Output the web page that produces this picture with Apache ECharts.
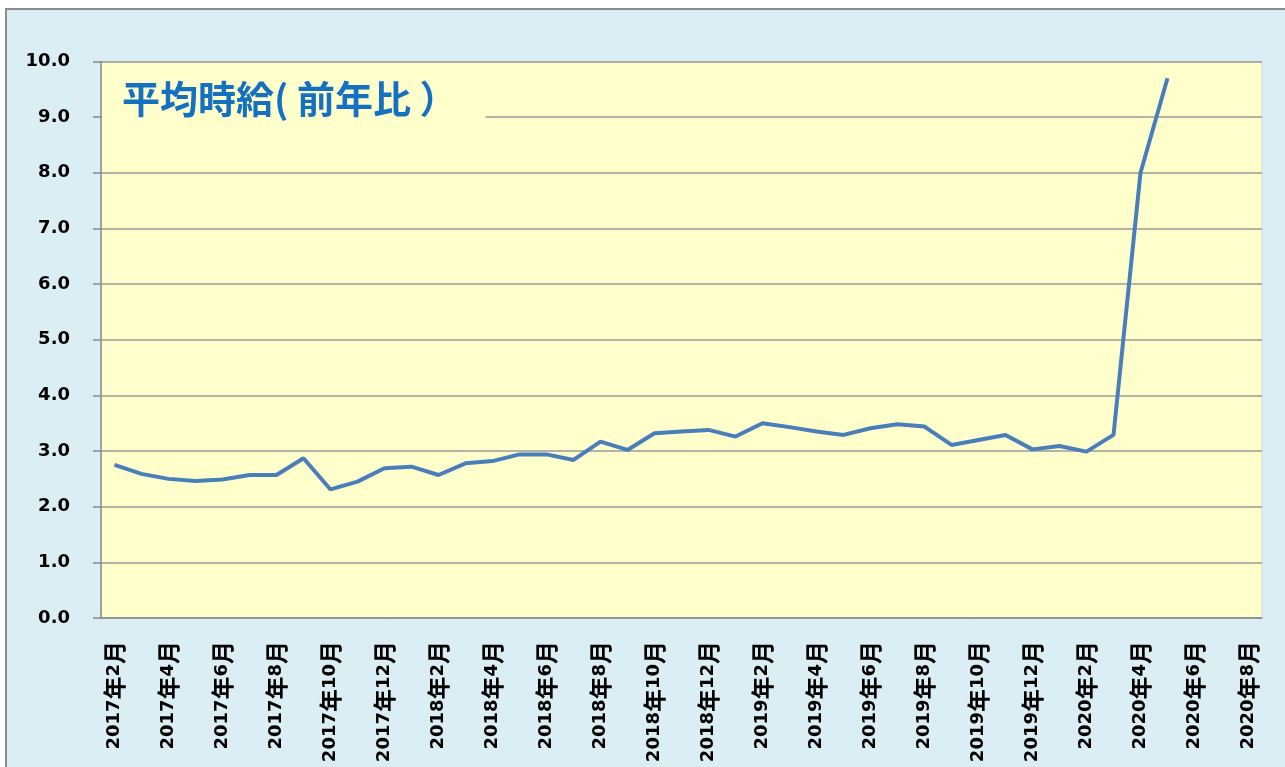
<!DOCTYPE html>
<html lang="ja">
<head>
    <meta charset="UTF-8">
    <title>平均時給(前年比）</title>
    <script src="https://cdn.jsdelivr.net/npm/echarts@6/dist/echarts.min.js"></script>
    <style>
        html, body { margin: 0; padding: 0; background: #fff; }
        #frame {
            position: absolute; left: 5px; top: 8px; width: 1285px; height: 767px;
            background: #DAEEF3;
            border-top: 2px solid #8c8c8c;
            border-left: 2px solid #8c8c8c;
        }
        #chart1 { position: absolute; left: 0; top: 0; width: 1285px; height: 767px; }
    </style>
</head>
<body>
<div id="frame"></div>
<div id="chart1"></div>
<script>
    // 月 (2017年2月 ～ 2020年8月)
    var months = [
        '2017年2月','2017年3月','2017年4月','2017年5月','2017年6月','2017年7月','2017年8月','2017年9月','2017年10月','2017年11月','2017年12月',
        '2018年1月','2018年2月','2018年3月','2018年4月','2018年5月','2018年6月','2018年7月','2018年8月','2018年9月','2018年10月','2018年11月','2018年12月',
        '2019年1月','2019年2月','2019年3月','2019年4月','2019年5月','2019年6月','2019年7月','2019年8月','2019年9月','2019年10月','2019年11月','2019年12月',
        '2020年1月','2020年2月','2020年3月','2020年4月','2020年5月','2020年6月','2020年7月','2020年8月'
    ];
    // 平均時給 前年比 (%)
    var wageYoY = [
        2.75, 2.59, 2.50, 2.46, 2.49, 2.57, 2.57, 2.87, 2.31, 2.45, 2.69,
        2.72, 2.57, 2.78, 2.82, 2.94, 2.94, 2.84, 3.17, 3.02, 3.32, 3.35, 3.38,
        3.26, 3.50, 3.43, 3.35, 3.29, 3.41, 3.48, 3.44, 3.11, 3.20, 3.29, 3.03,
        3.09, 2.99, 3.29, 8.00, 9.70
    ];
    var yMin = 0, yMax = 10, yStep = 1;

    var myChart = echarts.init(document.getElementById('chart1'));
    var option1 = {
        backgroundColor: 'transparent',
        animation: false,
        title: {
            text: '平均時給( 前年比 ）',
            left: 102,
            top: 70,
            padding: [10, 28, 10, 20],
            backgroundColor: '#FFFFCC',
            textStyle: {
                color: '#1470C0',
                fontSize: 38,
                fontWeight: 'bold',
                fontFamily: 'Noto Sans CJK JP'
            }
        },
        grid: {
            left: 101,
            top: 61.5,
            right: 23,
            bottom: 149,
            show: true,
            backgroundColor: '#FFFFCC',
            borderColor: '#d6d6d6',
            borderWidth: 1
        },
        xAxis: {
            type: 'category',
            boundaryGap: true,
            data: months,
            axisLine: { lineStyle: { color: '#8a8a8a', width: 1.5 } },
            axisTick: { interval: 1, length: 8, lineStyle: { color: '#8a8a8a', width: 1.5 } },
            axisLabel: {
                interval: 1,
                rotate: 90,
                margin: 23,
                color: '#000',
                formatter: function (v) {
                    return v.replace(/(\d+)/g, '{d|$1}').replace(/([年月])/g, '{c|$1}');
                },
                rich: {
                    d: { fontSize: 18, fontWeight: 'bold', fontFamily: 'DejaVu Sans', color: '#000', verticalAlign: 'middle' },
                    c: { fontSize: 23, fontWeight: 'bold', fontFamily: 'Noto Sans CJK JP', color: '#000', verticalAlign: 'middle' }
                }
            },
            splitLine: { show: false }
        },
        yAxis: {
            type: 'value',
            min: yMin,
            max: yMax,
            interval: yStep,
            axisLine: { show: true, lineStyle: { color: '#8a8a8a', width: 1.5 } },
            axisTick: { show: true, length: 8, lineStyle: { color: '#8a8a8a', width: 1.5 } },
            axisLabel: {
                margin: 31,
                color: '#000',
                fontSize: 18,
                fontWeight: 'bold',
                fontFamily: 'DejaVu Sans',
                formatter: function (v) { return v.toFixed(1); }
            },
            splitLine: { lineStyle: { color: '#9a9a9a', width: 1.5 } }
        },
        series: [
            {
                name: '平均時給',
                type: 'line',
                data: wageYoY,
                symbol: 'none',
                z: 3,
                lineStyle: { color: '#4A7EBB', width: 4 }
            }
        ]
    };
    myChart.setOption(option1);
</script>
</body>
</html>
